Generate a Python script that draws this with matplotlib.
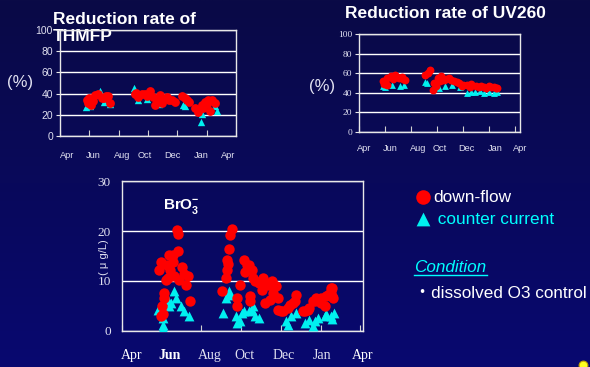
import numpy as np
import matplotlib.pyplot as plt

plt.rcParams['font.family'] = ['Liberation Sans', 'Noto Sans CJK JP', 'DejaVu Sans']
plt.rcParams['mathtext.fontset'] = 'custom'
plt.rcParams['mathtext.bf'] = 'Liberation Sans:bold'
plt.rcParams['mathtext.rm'] = 'Liberation Sans'

months = ['Apr', 'Jun', 'Aug', 'Oct', 'Dec', 'Jan', 'Apr']

# THMFP reduction rate (%), x in month-tick units (0 = Apr ... 6 = Apr)
thm_down_x = [0.91, 0.97, 1.0, 1.06, 1.08, 1.12, 1.19, 1.31, 1.42, 1.5, 1.56, 1.65, 1.70,
              2.56, 2.6, 2.67, 2.78, 2.9, 2.96, 3.07, 3.18, 3.24, 3.30, 3.35, 3.41, 3.47,
              3.55, 3.64, 3.7, 3.81, 3.92, 4.15, 4.25, 4.32, 4.40,
              4.60, 4.72, 4.83, 4.86, 4.94, 5.0, 5.06, 5.11, 5.17, 5.28]
thm_down_y = [34, 31, 36, 29, 35, 33, 39, 40, 36, 36, 38, 38, 31,
              40, 41, 37, 40, 40, 38, 42, 37, 29, 34, 36, 39, 31,
              35, 37, 34, 34, 32, 38, 36, 34, 32,
              26, 23, 29, 26, 32, 30, 34, 24, 34, 31]
thm_cc_x = [0.9, 1.02, 1.36, 1.51, 1.72, 2.53, 2.67, 2.96, 3.37, 4.20, 4.25, 4.81, 4.83, 5.28, 5.34]
thm_cc_y = [27, 28, 42, 32, 30, 45, 34, 35, 30, 29, 28, 13, 21, 28, 24]

# UV260 reduction rate (%)
uv_down_x = [0.91, 0.97, 1.09, 1.09, 1.22, 1.3, 1.37, 1.45, 1.53, 1.65, 1.7, 1.78,
             2.52, 2.65, 2.73, 2.83, 2.90, 2.95, 3.02, 3.1, 3.14, 3.27, 3.35, 3.45, 3.55,
             3.64, 3.75, 3.83, 3.95, 4.0, 4.14, 4.25, 4.32, 4.51, 4.6, 4.70, 4.8, 4.88,
             5.0, 5.07, 5.2, 5.26, 5.3]
uv_down_y = [51.7, 49, 55, 48, 56.7, 54, 58, 56, 55, 56, 54, 53,
             58, 60.5, 63, 43, 50, 47, 55, 52, 56.7, 53, 54, 55, 53,
             52.5, 51, 50, 46.7, 48, 48, 46, 49, 46.7, 46, 47, 46, 44.6,
             47, 45.6, 46, 44.6, 45]
uv_cc_x = [0.91, 1.0, 1.28, 1.59, 1.72, 2.52, 2.6, 3.08, 3.3, 3.58, 3.9, 4.14, 4.3, 4.45,
           4.65, 4.82, 5.0, 5.2, 5.3]
uv_cc_y = [46.7, 46, 48, 46.7, 48, 51, 50, 45, 47, 48, 46, 39.5, 41, 41, 42, 40, 41, 40, 41]

# BrO3- (ug/L)
bro_down_x = [1.38, 1.40, 1.42, 1.19, 0.99, 0.93, 1.13, 1.28, 1.21, 1.11, 1.51, 1.57, 1.65,
              1.61, 1.44, 1.32, 1.28, 1.07, 1.05, 1.01, 0.99, 1.72, 1.03, 1.17,
              2.76, 2.71, 2.69, 2.64, 2.65, 2.62, 2.52, 2.67, 3.06, 3.14, 3.10, 2.98, 2.90,
              2.90, 3.27, 3.31, 3.23, 3.23, 3.44, 3.56, 3.52, 3.60, 3.68, 3.77, 3.81, 3.89,
              3.73, 3.35, 3.19, 3.93, 3.93, 4.06, 4.0, 4.18, 4.22, 4.30, 4.39, 4.35,
              4.56, 4.60, 4.68, 4.72, 4.80, 4.85, 4.89, 5.01, 5.01, 5.10, 5.14, 5.18, 5.26,
              5.26, 5.30, 5.30, 5.32]
bro_down_y = [20.3, 19.5, 16.1, 15.2, 13.9, 12.3, 13.2, 13.9, 12.2, 10.2, 12.9, 11.5, 10.9,
              9.2, 10.2, 11.0, 15.2, 7.5, 6.5, 4.9, 2.9, 6.0, 3.4, 10.5,
              20.5, 19.2, 16.5, 14.3, 12.2, 10.5, 7.9, 13.5, 14.2, 13.2, 11.9, 9.2, 6.5,
              4.9, 12.2, 10.5, 6.9, 5.9, 9.5, 10.5, 8.2, 5.5, 9.2, 9.9, 7.5, 8.9,
              6.2, 9.9, 13.2, 6.5, 4.2, 3.9, 3.9, 4.5, 5.2, 5.5, 7.2, 6.0,
              3.9, 3.9, 4.2, 4.5, 5.9, 5.9, 6.5, 6.5, 5.5, 5.0, 6.9, 7.2, 7.9,
              8.5, 8.5, 6.9, 6.5]
bro_cc_x = [0.90, 1.03, 1.03, 1.32, 1.36, 1.24, 1.49, 1.57, 1.69, 1.18, 1.15, 1.02,
            2.61, 2.54, 2.69, 2.72, 2.86, 2.98, 3.02, 3.06, 3.19, 3.27, 3.31, 3.35, 3.44, 2.9,
            4.14, 4.18, 4.26, 4.39, 4.6, 4.72, 4.8, 4.85, 4.93, 5.10, 5.14, 5.26, 5.30, 5.35]
bro_cc_y = [4.2, 1.2, 2.5, 7.9, 6.5, 5.5, 4.9, 3.9, 2.9, 5.0, 6.2, 0.5,
            6.5, 3.5, 7.9, 7.2, 2.9, 1.9, 3.5, 3.9, 3.9, 4.2, 4.9, 2.9, 2.5, 1.5,
            1.9, 1.2, 2.9, 3.5, 1.5, 2.1, 0.9, 1.9, 2.5, 2.9, 3.3, 2.9, 2.3, 3.5]

RED = '#ff0000'
CYAN = '#00f0f0'
TXT = '#e0e0f0'

fig = plt.figure(figsize=(5.9, 3.67), dpi=100)

# dark blue slide background, lighter toward the bottom
bg = fig.add_axes([0, 0, 1, 1], zorder=-10)
top = np.array([10, 10, 70]) / 255
bot = np.array([8, 8, 112]) / 255
t = np.linspace(0, 1, 256)[:, None, None]
grad = top + (bot - top) * t
bg.imshow(np.repeat(grad, 2, axis=1), extent=[0, 590, 367, 0], aspect='auto')
bg.set_xlim(0, 590)
bg.set_ylim(367, 0)
bg.axis('off')


def style_axes(ax, ymax, ystep, lab_pos, ysize, xsize, yfont, xfont, xpad):
    ax.set_facecolor('none')
    ax.set_xlim(0, 6)
    ax.set_ylim(0, ymax)
    for s in ax.spines.values():
        s.set_color('#e8e8e8')
        s.set_linewidth(1.0)
    ax.set_yticks(np.arange(0, ymax + 1, ystep))
    ax.tick_params(axis='y', colors='#e8e8e8', labelcolor=TXT, labelsize=ysize,
                   length=3, width=0.8, pad=2)
    for lab in ax.get_yticklabels():
        lab.set_family(yfont)
    ax.grid(axis='y', color='white', linewidth=1.0)
    ax.set_axisbelow(True)
    ax.set_xticks(range(7))
    ax.set_xticklabels([])
    ax.tick_params(axis='x', which='major', direction='in', length=4, width=0.8,
                   colors='#d0d0d0')
    ax.set_xticks(lab_pos, months, minor=True)
    ax.tick_params(axis='x', which='minor', length=0, labelsize=xsize,
                   labelcolor=TXT, pad=xpad)
    for lab in ax.get_xticklabels(minor=True):
        lab.set_family(xfont)


# THMFP
ax1 = fig.add_axes([0.1017, 0.6294, 0.2983, 0.2888])
style_axes(ax1, 100, 20, [0.24, 1.125, 2.11, 2.9, 3.85, 4.81, 5.73],
           7.5, 6.7, 'Liberation Sans', 'Liberation Sans', 11)
ax1.scatter(thm_cc_x, thm_cc_y, marker='^', s=28, color=CYAN, zorder=3, linewidths=0)
ax1.scatter(thm_down_x, thm_down_y, marker='o', s=40, color=RED, zorder=4, linewidths=0)

# UV260
ax2 = fig.add_axes([0.6085, 0.6403, 0.2729, 0.267])
style_axes(ax2, 100, 20, [0.19, 1.19, 2.27, 3.09, 4.14, 5.22, 6.19],
           6.8, 6.7, 'Liberation Serif', 'Liberation Sans', 8.5)
ax2.scatter(uv_cc_x, uv_cc_y, marker='^', s=24, color=CYAN, zorder=3, linewidths=0)
ax2.scatter(uv_down_x, uv_down_y, marker='o', s=32, color=RED, zorder=4, linewidths=0)

# BrO3-
ax3 = fig.add_axes([0.2068, 0.0981, 0.4085, 0.4087])
style_axes(ax3, 30, 10, [0.25, 1.19, 2.22, 3.09, 4.08, 5.05, 6.07],
           9.5, 10, 'Liberation Serif', 'Liberation Serif', 13)
ax3.tick_params(axis='y', length=0, pad=8)
for i, lab in enumerate(ax3.get_xticklabels(minor=True)):
    if i in (0, 1, 6):
        lab.set_color('white')
    if i == 1:
        lab.set_fontweight('bold')
cc = ax3.scatter(bro_cc_x, bro_cc_y, marker='^', s=50, color=CYAN, zorder=3, linewidths=0)
dn = ax3.scatter(bro_down_x, bro_down_y, marker='o', s=56, color=RED, zorder=4, linewidths=0)

# titles and labels
bg.text(53, 28, 'Reduction rate of\nTHMFP', color='white', fontsize=12.5,
        fontweight='bold', ha='left', va='center', linespacing=1.15)
bg.text(445, 14, 'Reduction rate of UV260', color='white', fontsize=12.5,
        fontweight='bold', ha='center', va='center')
bg.text(20, 82, '(%)', color=TXT, fontsize=12, ha='center', va='center')
bg.text(322, 87, '(%)', color=TXT, fontsize=12, ha='center', va='center')
bg.text(104, 257, '( μ g/L)', color=TXT, fontsize=8, ha='center', va='center',
        rotation=90)
bg.text(163, 206, r'$\mathbf{BrO}_\mathbf{3}^{\mathbf{-}}$', color='white', fontsize=11,
        ha='left', va='center')

leg = fig.legend(handles=[dn, cc], labels=['down-flow', ' counter current'],
                 loc='upper left', bbox_to_anchor=(407 / 590, 1 - 181 / 367),
                 fontsize=12.4, markerscale=1.4, handlelength=0.9, handletextpad=0.1,
                 labelspacing=0.4, borderpad=0, frameon=False,
                 labelcolor=['white', 'cyan'])

bg.text(414, 267, 'Condition', color='cyan', fontsize=12.3, style='italic',
        ha='left', va='center')
bg.plot([414, 487], [274.5, 274.5], color='cyan', linewidth=1)
bg.text(414, 293, '・dissolved O3 control', color='white', fontsize=12.3,
        ha='left', va='center')

# small yellow slide marker in the corner
bg.scatter([583], [365], s=40, color='#ffff20', edgecolors='#c0a000', linewidths=0.8)
bg.set_xlim(0, 590)
bg.set_ylim(367, 0)

fig.savefig('out.png', dpi=100)
